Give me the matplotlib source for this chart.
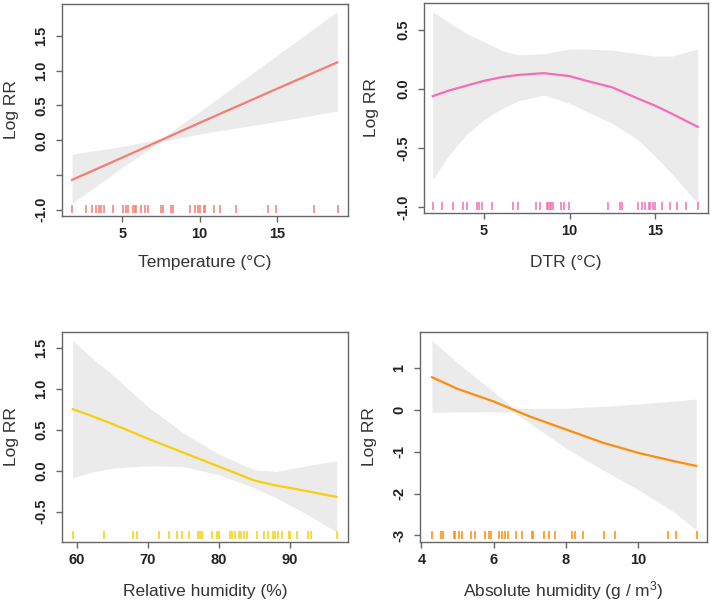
import numpy as np
import matplotlib
matplotlib.use('Agg')
import matplotlib.pyplot as plt

plt.rcParams['font.family'] = ['Liberation Sans', 'DejaVu Sans']
plt.rcParams['mathtext.default'] = 'regular'

# --- Temperature
temp_x = [1.75, 5, 7.5, 10, 15, 18.9]
temp_fit = [-0.57, -0.25, 0.0, 0.25, 0.74, 1.12]
temp_lo = [-0.91, -0.39, -0.02, 0.09, 0.27, 0.42]
temp_hi = [-0.2, -0.09, 0.02, 0.41, 1.22, 1.85]
temp_rug = [1.75, 2.64, 3.07, 3.33, 3.48, 3.61, 3.83, 4.42, 5.06, 5.24, 5.39,
            5.71, 5.80, 5.89, 6.21, 6.49, 6.65, 7.49, 7.62, 8.14, 8.27, 9.39,
            9.72, 9.91, 10.04, 10.30, 10.37, 10.95, 11.34, 12.38, 14.42, 14.94,
            17.40, 18.92]

# --- DTR
dtr_x = [2, 3, 4, 5, 6, 7, 8.5, 10, 11, 12.5, 14, 15, 16, 17.5]
dtr_fit = [-0.06, -0.01, 0.03, 0.07, 0.10, 0.12, 0.135, 0.11, 0.07, 0.015,
           -0.08, -0.14, -0.21, -0.32]
dtr_lo = [-0.77, -0.55, -0.38, -0.26, -0.17, -0.10, -0.05, -0.12, -0.19, -0.29,
          -0.43, -0.57, -0.72, -0.97]
dtr_hi = [0.655, 0.56, 0.47, 0.40, 0.33, 0.29, 0.30, 0.34, 0.34, 0.33, 0.30,
          0.28, 0.28, 0.34]
dtr_rug = [2.01, 2.52, 3.20, 3.77, 3.98, 4.61, 4.71, 4.86, 5.49, 6.70, 6.99,
           8.03, 8.28, 8.71, 8.77, 8.85, 8.91, 9.04, 9.49, 9.65, 9.98, 12.23,
           12.97, 13.07, 13.98, 14.24, 14.43, 14.63, 14.71, 14.86, 15.00, 15.41,
           15.88, 16.27, 16.82, 17.50]

# --- Relative humidity
rh_x = [59.4, 62, 65, 70, 75, 80, 85, 88, 90, 93, 96.6]
rh_fit = [0.75, 0.67, 0.57, 0.39, 0.22, 0.05, -0.12, -0.18, -0.21, -0.26, -0.32]
rh_lo = [-0.09, -0.02, 0.03, 0.06, 0.05, -0.05, -0.21, -0.33, -0.42, -0.56, -0.75]
rh_hi = [1.59, 1.38, 1.17, 0.78, 0.46, 0.20, 0.01, -0.01, 0.02, 0.07, 0.12]
rh_rug = [59.39, 63.84, 67.88, 68.44, 71.58, 73.03, 74.06, 74.77, 75.85, 77.11,
          77.35, 77.67, 79.08, 79.69, 80.02, 81.57, 81.89, 82.27, 82.78, 83.07,
          83.53, 84.00, 85.36, 86.39, 86.86, 87.57, 87.89, 88.27, 88.83, 89.82,
          90.00, 91.08, 92.58, 92.96, 96.66]

# --- Absolute humidity
ah_x = [4.29, 5, 6, 6.55, 7, 8, 9, 10, 11, 11.6]
ah_fit = [0.78, 0.5, 0.2, 0.0, -0.16, -0.47, -0.78, -1.03, -1.23, -1.34]
ah_lo = [-0.06, -0.05, -0.05, -0.06, -0.32, -0.92, -1.43, -1.91, -2.45, -2.87]
ah_hi = [1.66, 1.12, 0.43, 0.04, 0.03, 0.04, 0.08, 0.14, 0.21, 0.26]
ah_rug = [4.29, 4.54, 4.60, 4.89, 4.93, 5.05, 5.12, 5.37, 5.49, 5.75, 5.86, 5.93,
          6.14, 6.24, 6.30, 6.40, 6.61, 6.79, 7.05, 7.09, 7.39, 7.54, 7.70, 8.16,
          8.25, 8.48, 9.04, 9.35, 10.82, 11.04, 11.62]

panels = [
    dict(x=temp_x, fit=temp_fit, lo=temp_lo, hi=temp_hi, rug=temp_rug,
         color='#F67B72', xlabel='Temperature (°C)',
         xticks=[5, 10, 15], xlim=(1.1, 19.6),
         yticks=[-1.0, -0.5, 0.0, 0.5, 1.0, 1.5],
         ylabels=['-1.0', '', '0.0', '0.5', '1.0', '1.5'], ylim=(-1.09, 1.96),
         rect=[0.0871, 0.6424, 0.4017, 0.3510], ylab=-0.15, xlab=-0.184),
    dict(x=dtr_x, fit=dtr_fit, lo=dtr_lo, hi=dtr_hi, rug=dtr_rug,
         color='#F56DB6', xlabel='DTR (°C)',
         xticks=[5, 10, 15], xlim=(1.49, 18.1),
         yticks=[-1.0, -0.5, 0.0, 0.5],
         ylabels=['-1.0', '-0.5', '0.0', '0.5'], ylim=(-1.05, 0.73),
         rect=[0.5955, 0.6474, 0.3989, 0.3477], ylab=-0.158, xlab=-0.2),
    dict(x=rh_x, fit=rh_fit, lo=rh_lo, hi=rh_hi, rug=rh_rug,
         color='#F5D10C', xlabel='Relative humidity (%)',
         xticks=[60, 70, 80, 90], xlim=(57.9, 98.2),
         yticks=[-0.5, 0.0, 0.5, 1.0, 1.5],
         ylabels=['-0.5', '0.0', '0.5', '1.0', '1.5'], ylim=(-0.87, 1.69),
         rect=[0.0871, 0.1026, 0.4017, 0.3477], ylab=-0.15, xlab=-0.2),
    dict(x=ah_x, fit=ah_fit, lo=ah_lo, hi=ah_hi, rug=ah_rug,
         color='#FF8C0A', xlabel='Absolute humidity (g / m$^{3}$)',
         xticks=[4, 6, 8, 10], xlim=(3.96, 11.9),
         yticks=[-3, -2, -1, 0, 1],
         ylabels=['-3', '-2', '-1', '0', '1'], ylim=(-3.16, 1.86),
         rect=[0.5899, 0.1026, 0.4031, 0.3477], ylab=-0.15, xlab=-0.175),
]

fig = plt.figure(figsize=(7.12, 6.04), dpi=100)
for p in panels:
    ax = fig.add_axes(p['rect'])
    ax.fill_between(p['x'], p['lo'], p['hi'], color='#EBEBEB', lw=0)
    ax.plot(p['x'], p['fit'], color=p['color'], lw=1.6)
    ax.plot(p['rug'], np.full(len(p['rug']), 0.035), '|', color=p['color'],
            ms=6, mew=1.1, transform=ax.get_xaxis_transform(), clip_on=False)
    ax.set_xlim(p['xlim'])
    ax.set_ylim(p['ylim'])
    ax.set_xticks(p['xticks'])
    ax.set_xticklabels([str(t) for t in p['xticks']], fontweight='bold',
                       fontsize=10.5, color='#222222')
    ax.set_yticks(p['yticks'])
    ax.set_yticklabels(p['ylabels'], fontweight='bold', fontsize=10.5,
                       color='#222222', rotation=90, va='center')
    ax.tick_params(direction='out', length=4, width=1, color='#666666')
    ax.tick_params(axis='x', pad=4)
    ax.tick_params(axis='y', pad=6)
    for s in ax.spines.values():
        s.set_color('#666666')
        s.set_linewidth(1.0)
    ax.set_xlabel(p['xlabel'], fontsize=12.5, color='#333333')
    ax.set_ylabel('Log RR', fontsize=12.5, color='#333333')
    ax.yaxis.set_label_coords(p['ylab'], 0.5)
    ax.xaxis.set_label_coords(0.5, p['xlab'])

fig.savefig('out.png', dpi=100)
